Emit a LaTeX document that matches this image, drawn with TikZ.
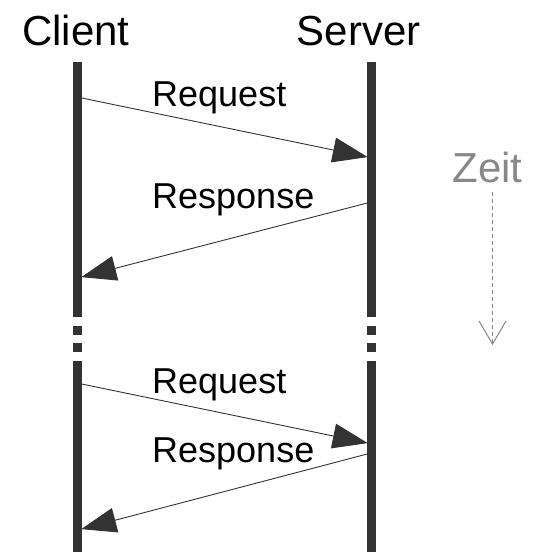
\documentclass[tikz,border=0pt]{standalone}
\usepackage{fontspec}
\setmainfont{Liberation Sans}
\usetikzlibrary{arrows.meta}
\definecolor{ink}{HTML}{333333}
\definecolor{timegray}{HTML}{888888}
\begin{document}
\begin{tikzpicture}[x=1pt,y=-1pt,
  lifeline/.style={fill=ink,draw=none},
  msg/.style={draw=ink,line width=0.9pt,-{Triangle[length=35pt,width=25pt]},shorten >=-0.5pt},
  title/.style={font=\fontsize{42}{50}\selectfont,inner sep=0pt},
  msglabel/.style={font=\fontsize{36}{43}\selectfont,inner sep=0pt,anchor=base west},
  timeaxis/.style={draw=timegray,line width=1pt,dash pattern=on 4pt off 3pt,
    -{Straight Barb[length=23pt,width=27pt,line width=1pt]}}]
\useasboundingbox (0,0) rectangle (539,552);

% titles
\node[title,anchor=base] (client) at (76,45) {Client};
\node[title,anchor=base] (server) at (358.5,45) {Server};

% lifelines with a break
\foreach \x/\n in {77.5/c,371.5/s}{
  \fill[lifeline] (\x-4.25,62) rectangle (\x+4.25,317);
  \fill[lifeline] (\x-4.25,326) rectangle (\x+4.25,335);
  \fill[lifeline] (\x-4.25,343) rectangle (\x+4.25,352);
  \fill[lifeline] (\x-4.25,361) rectangle (\x+4.25,552);
}

% message end points on the lifeline edges
\coordinate (c1) at (81.75,98);
\coordinate (s1) at (367.25,157);
\coordinate (s2) at (367.25,203);
\coordinate (c2) at (81.75,277);
\coordinate (c3) at (81.75,384);
\coordinate (s3) at (367.25,443);
\coordinate (s4) at (367.25,454);
\coordinate (c4) at (81.75,529);

\draw[msg] (c1) -- (s1);
\draw[msg] (s2) -- (c2);
\draw[msg] (c3) -- (s3);
\draw[msg] (s4) -- (c4);

\node[msglabel] (req1) at (152,106) {Request};
\node[msglabel] (res1) at (152,208) {Response};
\node[msglabel] (req2) at (152,393) {Request};
\node[msglabel] (res2) at (152,462) {Response};

% time axis
\node[title,anchor=base,text=timegray] (zeit) at (487.5,182) {Zeit};
\coordinate (tstart) at (492.5,192);
\coordinate (tend) at (492.5,345);
\draw[timeaxis] (tstart) -- (tend);
\end{tikzpicture}
\end{document}
